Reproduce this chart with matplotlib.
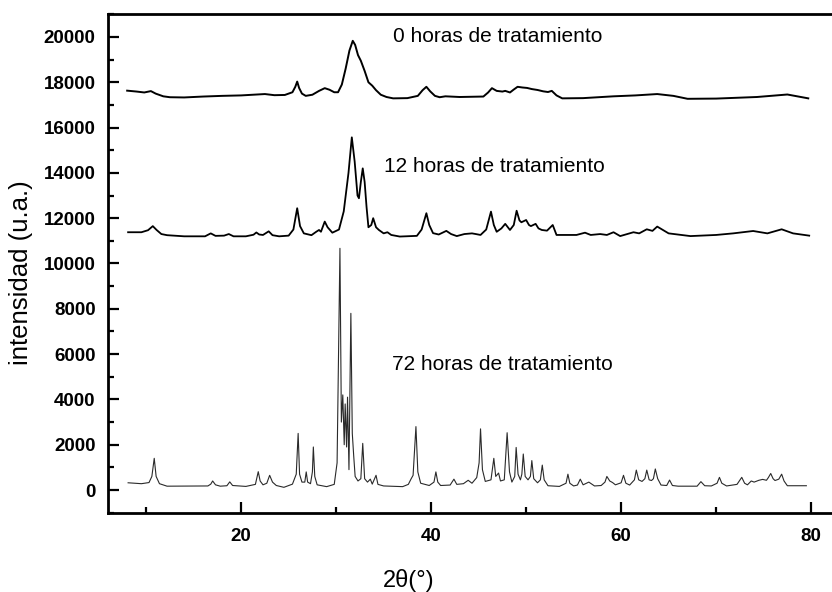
import numpy as np
import matplotlib
matplotlib.use("Agg")
import matplotlib.pyplot as plt
from matplotlib.ticker import MultipleLocator

plt.rcParams['font.family'] = ['Liberation Sans', 'DejaVu Sans']

# difractogramas: (2theta en grados, intensidad en u.a.), curvas ya desplazadas en y
pts_0h = [(8.0, 17630), (9.0, 17590), (9.8, 17550), (10.5, 17610), (11.0, 17500),
          (11.8, 17380), (12.5, 17340), (14.0, 17330), (16.0, 17370), (18.0, 17400),
          (20.0, 17420), (22.5, 17480), (23.5, 17430), (24.6, 17440), (25.4, 17560),
          (25.7, 17800), (25.9, 18030), (26.1, 17750), (26.4, 17500), (26.8, 17400),
          (27.5, 17450), (28.2, 17620), (28.8, 17740), (29.3, 17670), (29.8, 17560),
          (30.2, 17560), (30.6, 17900), (31.0, 18600), (31.4, 19400), (31.75, 19830),
          (32.0, 19650), (32.3, 19200), (32.6, 18950), (33.0, 18500), (33.4, 18000),
          (33.8, 17850), (34.2, 17650), (34.7, 17450), (35.3, 17350), (36.0, 17290),
          (37.5, 17300), (38.6, 17400), (39.1, 17650), (39.5, 17800), (39.9, 17600),
          (40.4, 17400), (40.9, 17340), (41.5, 17380), (43.0, 17350), (45.5, 17370),
          (46.0, 17550), (46.4, 17740), (46.9, 17620), (47.5, 17590), (47.8, 17620),
          (48.3, 17550), (48.7, 17680), (49.1, 17800), (49.6, 17770), (50.1, 17750),
          (50.6, 17700), (51.2, 17660), (51.8, 17600), (52.3, 17570), (52.7, 17620),
          (53.2, 17420), (53.8, 17290), (56.0, 17300), (59.2, 17380), (61.5, 17420),
          (63.8, 17480), (65.5, 17400), (67.0, 17270), (70.0, 17280), (74.3, 17350),
          (77.5, 17460), (79.7, 17290)]

pts_12h = [(8.1, 11380), (9.5, 11380), (10.2, 11470), (10.7, 11650), (11.1, 11480),
           (11.6, 11300), (12.2, 11250), (14.0, 11200), (16.2, 11200), (16.8, 11330),
           (17.3, 11220), (18.2, 11230), (18.7, 11300), (19.2, 11200), (20.5, 11200),
           (21.3, 11270), (21.6, 11370), (21.9, 11280), (22.3, 11260), (22.9, 11420),
           (23.3, 11250), (24.0, 11200), (25.0, 11230), (25.5, 11500), (25.9, 12440),
           (26.2, 11650), (26.6, 11330), (27.4, 11250), (27.9, 11400), (28.2, 11480),
           (28.4, 11400), (28.8, 11850), (29.1, 11600), (29.6, 11360), (30.3, 11500),
           (30.8, 12300), (31.3, 14000), (31.65, 15570), (31.95, 14500), (32.25, 13000),
           (32.4, 12880), (32.6, 13600), (32.8, 14200), (33.0, 13600), (33.2, 12500),
           (33.4, 11600), (33.7, 11700), (33.9, 12000), (34.2, 11600), (34.5, 11480),
           (35.0, 11330), (35.4, 11380), (35.8, 11260), (36.7, 11190), (38.5, 11220),
           (39.0, 11500), (39.5, 12220), (39.8, 11700), (40.2, 11340), (40.8, 11280),
           (41.6, 11440), (42.1, 11300), (42.7, 11210), (43.5, 11300), (44.3, 11330),
           (44.7, 11300), (45.2, 11260), (45.8, 11500), (46.3, 12290), (46.6, 11700),
           (46.9, 11400), (47.4, 11550), (47.8, 11750), (48.3, 11480), (48.7, 11700),
           (49.0, 12330), (49.3, 11900), (49.5, 11820), (50.0, 11920), (50.3, 11700),
           (50.5, 11650), (51.0, 11750), (51.3, 11550), (51.65, 11480), (52.2, 11450),
           (52.8, 11700), (53.2, 11260), (55.3, 11260), (56.2, 11360), (56.8, 11260),
           (57.8, 11300), (58.5, 11260), (59.2, 11380), (59.9, 11210), (61.3, 11380),
           (61.9, 11330), (62.7, 11510), (63.3, 11440), (63.8, 11630), (64.4, 11480),
           (65.0, 11330), (67.3, 11210), (70.0, 11260), (71.8, 11330), (73.9, 11435),
           (75.4, 11330), (76.9, 11510), (78.1, 11330), (79.8, 11230)]

pts_72h = [(8.1, 320), (9.5, 280), (10.3, 330), (10.6, 600), (10.85, 1400), (11.05, 600),
           (11.4, 280), (12.2, 170), (16.5, 180), (16.8, 260), (17.0, 400), (17.3, 230),
           (17.8, 170), (18.5, 190), (18.8, 360), (19.1, 200), (20.5, 160), (21.5, 250),
           (21.8, 810), (22.0, 400), (22.3, 230), (22.7, 300), (23.0, 650), (23.3, 350),
           (23.7, 200), (24.5, 120), (25.4, 260), (25.8, 700), (26.0, 2500), (26.15, 700),
           (26.4, 350), (26.7, 350), (26.85, 800), (27.0, 350), (27.3, 280), (27.5, 800),
           (27.6, 1900), (27.75, 600), (28.0, 230), (29.0, 150), (29.8, 250), (30.1, 1200),
           (30.4, 10670), (30.55, 3000), (30.7, 4200), (30.85, 2000), (30.95, 3800),
           (31.1, 1900), (31.2, 4100), (31.35, 900), (31.55, 7800), (31.7, 2500),
           (31.85, 1500), (32.0, 600), (32.3, 400), (32.6, 500), (32.8, 2060), (33.0, 500),
           (33.3, 350), (33.6, 480), (33.8, 260), (34.2, 650), (34.4, 250), (35.0, 180),
           (37.0, 150), (37.6, 250), (37.9, 500), (38.1, 650), (38.4, 2800), (38.6, 800),
           (38.9, 300), (39.8, 200), (40.3, 350), (40.5, 800), (40.7, 350), (41.0, 200),
           (42.0, 220), (42.4, 480), (42.7, 250), (43.4, 280), (43.9, 430), (44.3, 300),
           (44.8, 550), (45.05, 1200), (45.2, 2700), (45.4, 900), (45.7, 380), (46.3, 450),
           (46.6, 1400), (46.8, 600), (47.1, 750), (47.3, 400), (47.7, 450), (48.0, 2530),
           (48.25, 800), (48.5, 350), (48.8, 600), (48.95, 1880), (49.15, 700), (49.4, 450),
           (49.55, 700), (49.7, 1590), (49.9, 600), (50.2, 450), (50.45, 600), (50.6, 1300),
           (50.8, 500), (51.2, 320), (51.5, 450), (51.7, 1100), (51.9, 450), (52.3, 190),
           (53.5, 160), (54.2, 300), (54.4, 700), (54.6, 300), (55.0, 180), (55.4, 220),
           (55.7, 480), (56.0, 230), (56.6, 350), (57.2, 180), (57.9, 200), (58.3, 350),
           (58.5, 600), (58.8, 400), (59.1, 330), (59.4, 230), (60.0, 320), (60.25, 650),
           (60.5, 300), (60.9, 220), (61.4, 450), (61.6, 880), (61.85, 450), (62.2, 380),
           (62.5, 500), (62.7, 880), (62.95, 450), (63.2, 420), (63.4, 500), (63.6, 930),
           (63.85, 500), (64.2, 220), (64.8, 200), (65.1, 440), (65.4, 200), (66.0, 170),
           (68.0, 170), (68.4, 370), (68.8, 190), (69.5, 180), (70.1, 300), (70.35, 560),
           (70.6, 300), (71.1, 180), (72.2, 250), (72.7, 560), (73.0, 300), (73.3, 230),
           (73.7, 400), (74.0, 350), (74.5, 430), (74.9, 470), (75.3, 430), (75.5, 550),
           (75.75, 730), (76.0, 500), (76.2, 420), (76.6, 480), (76.9, 700), (77.15, 400),
           (77.5, 190), (79.5, 190)]

labels = ['0 horas de tratamiento', '12 horas de tratamiento', '72 horas de tratamiento']
label_x = [36.0, 35.0, 35.9]
label_y = [20000, 14300, 5550]

fig = plt.figure(figsize=(8.32, 5.92), dpi=100)
ax = fig.add_axes([0.13, 0.1334, 0.87, 0.843])

x, y = zip(*pts_0h)
ax.plot(x, y, color='black', lw=1.4)
x, y = zip(*pts_12h)
ax.plot(x, y, color='black', lw=1.3)
x, y = zip(*pts_72h)
ax.plot(x, y, color='#2a2a2a', lw=0.8)

for txt, tx, ty in zip(labels, label_x, label_y):
    ax.text(tx, ty, txt, fontsize=15, va='center', ha='left')

ax.set_xlim(6, 82.2)
ax.set_ylim(-1015, 21015)
ax.xaxis.set_major_locator(MultipleLocator(20))
ax.xaxis.set_minor_locator(MultipleLocator(10))
ax.yaxis.set_major_locator(MultipleLocator(2000))
ax.yaxis.set_minor_locator(MultipleLocator(1000))
ax.tick_params(which='both', direction='in', width=1.6, labelsize=13.5)
ax.tick_params(which='major', length=8)
ax.tick_params(which='minor', length=4.5)
ax.tick_params(axis='x', pad=10.5)
ax.tick_params(axis='y', pad=9)
for lab in ax.get_xticklabels() + ax.get_yticklabels():
    lab.set_fontweight('bold')

for side in ['left', 'bottom', 'top']:
    ax.spines[side].set_linewidth(2)
ax.spines['right'].set_visible(False)

ax.set_ylabel('intensidad (u.a.)', fontsize=18.5)
ax.yaxis.set_label_coords(-0.104, 0.481)
ax.set_xlabel('2θ(°)', fontsize=17)
ax.xaxis.set_label_coords(0.4145, -0.112)

fig.savefig('out.png', dpi=100)
